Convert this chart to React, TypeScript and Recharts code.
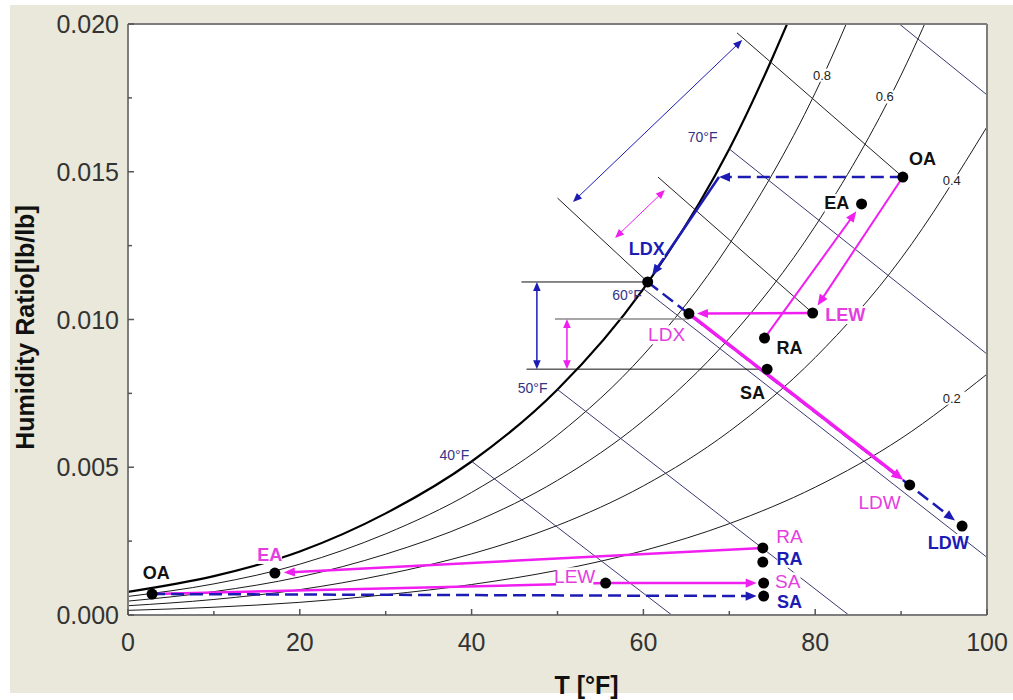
import React from "react";
import {
  CartesianGrid,
  ComposedChart,
  Line,
  ReferenceDot,
  ReferenceLine,
  Scatter,
  XAxis,
  YAxis,
} from "recharts";

const FONT = "'Liberation Sans', Arial, Helvetica, sans-serif";
const MAGENTA = "#f01ef0";
const MAGENTA_TEXT = "#e43ee0";
const BLUE = "#1c1cb4";
const WB_COLOR = "#3a3a70";
const FRAME = "#7d7d7d";

// dry bulb temperature steps of the relative humidity curves [°F]
const T_STEPS = [0, 10, 20, 30, 40, 50, 60, 70, 80, 90, 100];

// humidity ratio on each relative humidity curve [lb/lb]
const RH_100 = [0.000785, 0.001317, 0.002151, 0.003439, 0.005195, 0.007632, 0.01104, 0.015768, 0.022245];
const RH_80 = [0.000628, 0.001053, 0.00172, 0.002748, 0.004149, 0.00609, 0.008801, 0.012551, 0.01767, 0.024604];
const RH_60 = [0.000471, 0.00079, 0.001289, 0.002059, 0.003107, 0.004557, 0.006578, 0.009366, 0.013159, 0.018272, 0.025113];
const RH_40 = [0.000314, 0.000526, 0.000859, 0.001371, 0.002068, 0.00303, 0.00437, 0.006213, 0.008711, 0.012063, 0.01652];
const RH_20 = [0.000157, 0.000263, 0.000429, 0.000685, 0.001032, 0.001512, 0.002177, 0.003091, 0.004325, 0.005974, 0.008151];

// wet bulb lines [t, w] -> [t, w]
const WET_BULB = [
  [[40, 0.0052], [63.3, 0]],
  [[50, 0.00763], [83.9, 0]],
  [[60, 0.01104], [100, 0.00195]],
  [[70, 0.01577], [100, 0.00883]],
  [[89.8, 0.02], [100, 0.0176]],
];

// summer states
const S = {
  OA: { t: 90.2, w: 0.01482 },
  EA: { t: 85.4, w: 0.01391 },
  LEW: { t: 79.7, w: 0.01022 },
  RA: { t: 74.1, w: 0.00937 },
  SA: { t: 74.4, w: 0.00832 },
  LDX_M: { t: 65.3, w: 0.0102 },
  LDX_B: { t: 60.5, w: 0.01127 },
  LDW_M: { t: 91.0, w: 0.0044 },
  LDW_B: { t: 97.1, w: 0.00301 },
  DEW: { t: 68.8, w: 0.01482 },
};

// winter states
const W = {
  OA: { t: 2.8, w: 0.00071 },
  EA: { t: 17.1, w: 0.00142 },
  LEW: { t: 55.6, w: 0.00108 },
  RA_M: { t: 73.9, w: 0.00227 },
  RA_B: { t: 73.9, w: 0.00179 },
  SA_M: { t: 74.0, w: 0.00108 },
  SA_B: { t: 74.0, w: 0.00064 },
};

const DOTS = [S.OA, S.EA, S.LEW, S.RA, S.SA, S.LDX_M, S.LDX_B, S.LDW_M, S.LDW_B, W.OA, W.EA, W.LEW, W.RA_M, W.RA_B, W.SA_M, W.SA_B];

// construction lines of the two processes
const GUIDE_S1 = [{ t: 70.9, w: 0.0197 }, S.OA];
const GUIDE_S3 = [{ t: 50.0, w: 0.01411 }, S.LDX_B];
const GUIDE_S4 = [{ t: 61.7, w: 0.01482 }, S.LEW];
const LEVEL_LDX_B = [{ t: 45.8, w: 0.01127 }, S.LDX_B];
const LEVEL_LDX_M = [{ t: 49.7, w: 0.01002 }, { t: 65.3, w: 0.01002 }];
const LEVEL_SA = [{ t: 46.4, w: 0.00832 }, S.SA];
const DIM_BLUE_V = [{ t: 47.6, w: 0.01127 }, { t: 47.6, w: 0.00832 }];
const DIM_MAG_V = [{ t: 51.1, w: 0.01002 }, { t: 51.1, w: 0.00832 }];
const DIM_BLUE_D = [{ t: 51.8, w: 0.01398 }, { t: 71.5, w: 0.01946 }];
const DIM_MAG_D = [{ t: 56.7, w: 0.01276 }, { t: 62.5, w: 0.01438 }];

const BLACK_LABELS = [
  { text: "OA", t: 92.5, w: 0.01543 },
  { text: "EA", t: 82.5, w: 0.01394 },
  { text: "RA", t: 77.0, w: 0.00904 },
  { text: "SA", t: 72.7, w: 0.00751 },
  { text: "OA", t: 3.3, w: 0.00142 },
];
const MAGENTA_BOLD_LABELS = [
  { text: "LEW", t: 83.5, w: 0.01015 },
  { text: "EA", t: 16.5, w: 0.00203 },
];
const MAGENTA_LABELS = [
  { text: "LDX", t: 62.7, w: 0.00948 },
  { text: "LDW", t: 87.5, w: 0.00382 },
  { text: "LEW", t: 52.0, w: 0.00129 },
  { text: "RA", t: 77.0, w: 0.00264 },
  { text: "SA", t: 76.8, w: 0.00112 },
];
const BLUE_LABELS = [
  { text: "LDX", t: 60.4, w: 0.01239 },
  { text: "LDW", t: 95.5, w: 0.00244 },
  { text: "RA", t: 77.0, w: 0.0019 },
  { text: "SA", t: 77.0, w: 0.00044 },
];
const RH_LABELS = [
  { text: "0.8", t: 80.8, w: 0.01827 },
  { text: "0.6", t: 88.1, w: 0.01753 },
  { text: "0.4", t: 95.9, w: 0.01469 },
  { text: "0.2", t: 95.9, w: 0.00734 },
];
const WB_LABELS = [
  { text: "70°F", t: 66.9, w: 0.01617 },
  { text: "60°F", t: 58.1, w: 0.01083 },
  { text: "50°F", t: 47.1, w: 0.00768 },
  { text: "40°F", t: 38.0, w: 0.00541 },
];

const X_TICKS = [0, 10, 20, 30, 40, 50, 60, 70, 80, 90, 100];
const Y_TICKS = [0, 0.0025, 0.005, 0.0075, 0.01, 0.0125, 0.015, 0.0175, 0.02];

const X_GAP = 27;
const Y_GAP = 9;

const curve = (ws: number[]) => ws.map((w, i) => ({ t: T_STEPS[i], w }));

function ArrowLine(props: any) {
  const { x1, y1, x2, y2, color, width = 1, dash, head = "none", pad = 0, size = 10 } = props;
  const dx = x2 - x1;
  const dy = y2 - y1;
  const len = Math.hypot(dx, dy) || 1;
  const ux = dx / len;
  const uy = dy / len;
  const ex = x2 - ux * pad;
  const ey = y2 - uy * pad;
  const hw = size * 0.42;
  const tri = (tx: number, ty: number, vx: number, vy: number) => {
    const bx = tx - vx * size;
    const by = ty - vy * size;
    return `${tx},${ty} ${bx - vy * hw},${by + vx * hw} ${bx + vy * hw},${by - vx * hw}`;
  };
  const endCut = head === "none" ? 0 : size * 0.7;
  const startCut = head === "both" ? size * 0.7 : 0;
  return (
    <g>
      <line
        x1={x1 + ux * startCut}
        y1={y1 + uy * startCut}
        x2={ex - ux * endCut}
        y2={ey - uy * endCut}
        stroke={color}
        strokeWidth={width}
        strokeDasharray={dash}
      />
      {head !== "none" && <polygon points={tri(ex, ey, ux, uy)} fill={color} />}
      {head === "both" && <polygon points={tri(x1, y1, -ux, -uy)} fill={color} />}
    </g>
  );
}

function seg(key: string, pts: { t: number; w: number }[], style: any) {
  const [a, b] = pts;
  return (
    <ReferenceLine
      key={key}
      segment={[
        { x: a.t, y: a.w },
        { x: b.t, y: b.w },
      ]}
      ifOverflow="visible"
      shape={(p: any) => <ArrowLine {...p} {...style} />}
    />
  );
}

function TextMark(props: any) {
  const { cx, cy, text, color, size = 18, weight = "bold", bg = true } = props;
  const w = text.length * size * 0.62 + 2;
  return (
    <g>
      {bg && <rect x={cx - w / 2} y={cy - size / 2} width={w} height={size} fill="#ffffff" />}
      <text
        x={cx}
        y={cy}
        textAnchor="middle"
        dominantBaseline="central"
        fontFamily={FONT}
        fontSize={size}
        fontWeight={weight}
        fill={color}
      >
        {text}
      </text>
    </g>
  );
}

function labels(prefix: string, list: { text: string; t: number; w: number }[], style: any) {
  return list.map((l, i) => (
    <ReferenceDot
      key={`${prefix}${i}`}
      x={l.t}
      y={l.w}
      r={0}
      ifOverflow="visible"
      shape={(p: any) => <TextMark cx={p.cx} cy={p.cy} text={l.text} {...style} />}
    />
  ));
}

const isMajorX = (v: number) => v % 20 === 0;
const isMajorY = (v: number) => Math.abs(v / 0.005 - Math.round(v / 0.005)) < 1e-6;

function BottomTick({ x, y, payload }: any) {
  const axisY = y - X_GAP;
  const major = isMajorX(payload.value);
  return (
    <g>
      <line x1={x} x2={x} y1={axisY} y2={axisY - (major ? 6 : 4)} stroke="#555" strokeWidth={1.5} />
      {major && (
        <text x={x} y={y} textAnchor="middle" dominantBaseline="central" fontFamily={FONT} fontSize={25} fill="#333">
          {payload.value}
        </text>
      )}
    </g>
  );
}

function TopTick({ x, y, payload }: any) {
  const major = isMajorX(payload.value);
  return <line x1={x} x2={x} y1={y} y2={y + (major ? 6 : 4)} stroke="#555" strokeWidth={1.5} />;
}

function LeftTick({ x, y, payload }: any) {
  const axisX = x + Y_GAP;
  const major = isMajorY(payload.value);
  return (
    <g>
      <line x1={axisX} x2={axisX + (major ? 6 : 4)} y1={y} y2={y} stroke="#555" strokeWidth={1.5} />
      {major && (
        <text x={x} y={y} textAnchor="end" dominantBaseline="central" fontFamily={FONT} fontSize={25} fill="#333">
          {payload.value.toFixed(3)}
        </text>
      )}
    </g>
  );
}

function RightTick({ x, y, payload }: any) {
  const major = isMajorY(payload.value);
  return <line x1={x} x2={x - (major ? 6 : 4)} y1={y} y2={y} stroke="#555" strokeWidth={1.5} />;
}

function XTitle({ viewBox }: any) {
  return (
    <text
      x={viewBox.x + viewBox.width / 2 + 29}
      y={viewBox.y + 70}
      textAnchor="middle"
      dominantBaseline="central"
      fontFamily={FONT}
      fontSize={25}
      fontWeight="bold"
      fill="#111"
    >
      T [°F]
    </text>
  );
}

function YTitle({ viewBox }: any) {
  const cx = viewBox.x + 25;
  const cy = viewBox.y + viewBox.height / 2 + 8;
  return (
    <text
      x={cx}
      y={cy}
      transform={`rotate(-90 ${cx} ${cy})`}
      textAnchor="middle"
      dominantBaseline="central"
      fontFamily={FONT}
      fontSize={25}
      fontWeight="bold"
      fill="#111"
    >
      Humidity Ratio[lb/lb]
    </text>
  );
}

export default function App() {
  const rhCurves = [RH_80, RH_60, RH_40, RH_20];
  return (
    <div style={{ position: "relative", width: 1013, height: 700, background: "#ffffff" }}>
      <style>{"body{margin:0}"}</style>
      <div style={{ position: "absolute", left: 10, top: 5, right: 0, bottom: 7, background: "#e9e8da" }} />
      <div style={{ position: "absolute", left: 0, top: 0 }}>
        <ComposedChart width={1013} height={700} margin={{ top: 22, right: 24, bottom: 0, left: 0 }}>
          <CartesianGrid horizontal={false} vertical={false} fill="#ffffff" />
          <XAxis
            dataKey="t"
            type="number"
            domain={[0, 100]}
            ticks={X_TICKS}
            interval={0}
            allowDataOverflow
            height={85}
            tickSize={0}
            tickMargin={X_GAP}
            tickLine={false}
            tick={<BottomTick />}
            axisLine={{ stroke: FRAME, strokeWidth: 2 }}
            label={{ content: <XTitle /> }}
          />
          <XAxis
            xAxisId="top"
            orientation="top"
            type="number"
            domain={[0, 100]}
            ticks={X_TICKS}
            interval={0}
            height={2}
            tickSize={0}
            tickMargin={0}
            tickLine={false}
            tick={<TopTick />}
            axisLine={{ stroke: FRAME, strokeWidth: 2 }}
          />
          <YAxis
            dataKey="w"
            type="number"
            domain={[0, 0.02]}
            ticks={Y_TICKS}
            interval={0}
            allowDataOverflow
            width={128}
            tickSize={0}
            tickMargin={Y_GAP}
            tickLine={false}
            tick={<LeftTick />}
            axisLine={{ stroke: FRAME, strokeWidth: 2 }}
            label={{ content: <YTitle /> }}
          />
          <YAxis
            yAxisId="right"
            orientation="right"
            type="number"
            domain={[0, 0.02]}
            ticks={Y_TICKS}
            interval={0}
            width={2}
            tickSize={0}
            tickMargin={0}
            tickLine={false}
            tick={<RightTick />}
            axisLine={{ stroke: FRAME, strokeWidth: 2 }}
          />

          {rhCurves.map((ws, i) => (
            <Line
              key={`rh${i}`}
              data={curve(ws)}
              dataKey="w"
              type="monotone"
              dot={false}
              activeDot={false}
              stroke="#1a1a1a"
              strokeWidth={1}
              isAnimationActive={false}
            />
          ))}
          <Line
            data={curve(RH_100)}
            dataKey="w"
            type="monotone"
            dot={false}
            activeDot={false}
            stroke="#000"
            strokeWidth={2.2}
            isAnimationActive={false}
          />

          {WET_BULB.map((l, i) =>
            seg(`wb${i}`, [{ t: l[0][0], w: l[0][1] }, { t: l[1][0], w: l[1][1] }], { color: WB_COLOR, width: 1 })
          )}

          {seg("g1", GUIDE_S1, { color: "#222", width: 1 })}
          {seg("g3", GUIDE_S3, { color: "#222", width: 1 })}
          {seg("g4", GUIDE_S4, { color: "#222", width: 1 })}
          {seg("h1", LEVEL_LDX_B, { color: "#111", width: 1 })}
          {seg("h2", LEVEL_LDX_M, { color: "#8a8a8a", width: 1.5 })}
          {seg("h3", LEVEL_SA, { color: "#111", width: 1 })}
          {seg("dbv", DIM_BLUE_V, { color: BLUE, width: 1.5, head: "both", size: 9 })}
          {seg("dmv", DIM_MAG_V, { color: MAGENTA, width: 1.5, head: "both", size: 9 })}
          {seg("dbd", DIM_BLUE_D, { color: BLUE, width: 1, head: "both", size: 9 })}
          {seg("dmd", DIM_MAG_D, { color: MAGENTA, width: 1, head: "both", size: 9 })}

          {/* summer process */}
          {seg("p1", [S.OA, S.DEW], { color: BLUE, width: 2.5, dash: "13 6", head: "end", size: 11 })}
          {seg("p2", [S.DEW, S.LDX_B], { color: BLUE, width: 2.5, head: "end", pad: 8, size: 11 })}
          {seg("p3", [S.LDX_B, S.LDW_B], { color: BLUE, width: 2.5, dash: "13 6", head: "end", pad: 9, size: 11 })}
          {seg("p4", [S.LDX_M, S.LDW_M], { color: MAGENTA, width: 3.5, head: "end", pad: 8, size: 12 })}
          {seg("p5", [S.LEW, S.LDX_M], { color: MAGENTA, width: 2.5, head: "end", pad: 8, size: 11 })}
          {seg("p6", [S.OA, S.LEW], { color: MAGENTA, width: 2, head: "end", pad: 9, size: 11 })}
          {seg("p7", [S.RA, S.EA], { color: MAGENTA, width: 2, head: "end", pad: 9, size: 11 })}

          {/* winter process */}
          {seg("w1", [W.RA_M, W.EA], { color: MAGENTA, width: 2.5, head: "end", pad: 9, size: 11 })}
          {seg("w2", [W.OA, W.LEW], { color: MAGENTA, width: 2.5 })}
          {seg("w3", [W.LEW, W.SA_M], { color: MAGENTA, width: 2.5, head: "end", pad: 7, size: 11 })}
          {seg("w4", [W.OA, W.SA_B], { color: BLUE, width: 2.5, dash: "13 6", head: "end", pad: 7, size: 11 })}

          <Scatter
            data={DOTS}
            fill="#000"
            isAnimationActive={false}
            shape={(p: any) => <circle cx={p.cx} cy={p.cy} r={5.5} fill="#000" />}
          />

          {labels("rh", RH_LABELS, { color: "#222", size: 13, weight: "normal" })}
          {labels("wb", WB_LABELS, { color: "#333388", size: 14, weight: "normal", bg: false })}
          {labels("bk", BLACK_LABELS, { color: "#111", size: 18 })}
          {labels("mb", MAGENTA_BOLD_LABELS, { color: MAGENTA_TEXT, size: 18 })}
          {labels("mg", MAGENTA_LABELS, { color: MAGENTA_TEXT, size: 19, weight: "normal" })}
          {labels("bl", BLUE_LABELS, { color: BLUE, size: 18 })}
        </ComposedChart>
      </div>
    </div>
  );
}
